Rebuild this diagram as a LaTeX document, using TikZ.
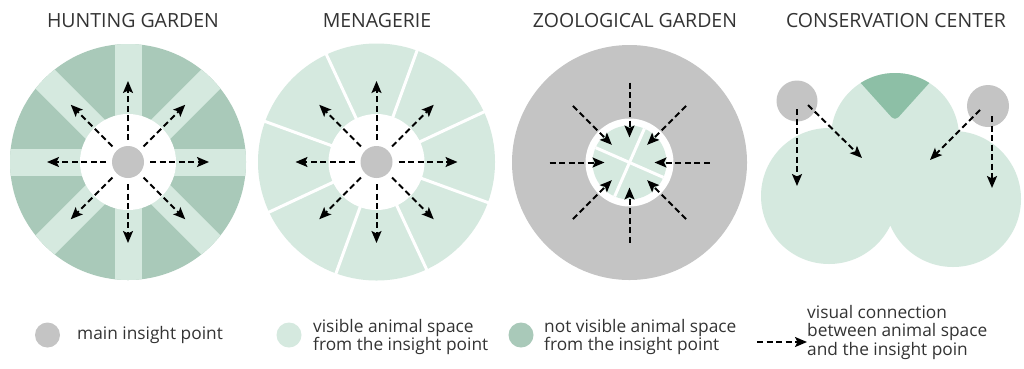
\documentclass[tikz,border=0pt]{standalone}
\usepackage{fontspec}
\setmainfont{Open Sans}
\usetikzlibrary{arrows.meta,calc}
\definecolor{lightc}{HTML}{D5E9DF}
\definecolor{darkc}{HTML}{A9C9B9}
\definecolor{deepc}{HTML}{8DBFA6}
\definecolor{greyc}{HTML}{C4C4C4}
\definecolor{textc}{HTML}{333333}
\begin{document}
\begin{tikzpicture}[x=1pt,y=-1pt,
  pt/.style={circle,fill=greyc,inner sep=0pt},
  ttl/.style={font=\fontsize{19.5}{22}\selectfont,text=textc},
  lgd/.style={font=\fontsize{17.3}{18.5}\selectfont,text=textc,align=left,anchor=west,inner sep=0pt},
  sep/.style={white,line width=3pt},
  ar/.style={-{Stealth[length=12pt,width=10pt,inset=2.5pt]},line width=2pt,dash pattern=on 6pt off 3.5pt}]
\useasboundingbox[fill=white] (0,0) rectangle (1024,368);
% titles
\node[ttl] (t1) at (133,21) {HUNTING GARDEN};
\node[ttl] (t2) at (377,21) {MENAGERIE};
\node[ttl] (t3) at (635,21) {ZOOLOGICAL GARDEN};
\node[ttl] (t4) at (896,21) {CONSERVATION CENTER};
% hunting garden
\fill[darkc] (128,162) circle (118pt);
\begin{scope}
  \clip (128,162) circle (118pt);
  \foreach \a in {0,45,90,135}
    \draw[lightc,line width=27pt] ($(128,162)+(\a:120)$) -- ($(128,162)+(\a+180:120)$);
\end{scope}
\fill[white] (128,162) circle (48pt);
\node[pt,minimum size=32pt] (hg) at (128,162) {};
\foreach \a in {0,45,...,315}
  \draw[ar] ($(hg)+(\a:22)$) -- ($(hg)+(\a:81)$);
% menagerie
\fill[lightc] (376.5,162) circle (118.5pt);
\foreach \a in {20,65,...,335}
  \draw[sep] ($(376.5,162)+(\a:46)$) -- ($(376.5,162)+(\a:120)$);
\fill[white] (376.5,162) circle (48pt);
\node[pt,minimum size=32pt] (mg) at (376.5,162) {};
\foreach \a in {0,45,...,315}
  \draw[ar] ($(mg)+(\a:22)$) -- ($(mg)+(\a:81)$);
% zoological garden
\fill[greyc] (629.5,162.5) circle (117.5pt);
\fill[white] (629.5,162.5) circle (44pt);
\node[pt,fill=lightc,minimum size=74pt] (zg) at (629.5,162.5) {};
\draw[sep] ($(zg)+(23.7:37)$) -- ($(zg)+(203.7:37)$);
\draw[sep] ($(zg)+(113.7:37)$) -- ($(zg)+(293.7:37)$);
\foreach \a in {0,45,...,315}
  \draw[ar] ($(zg)+(\a:80)$) -- ($(zg)+(\a:25)$);
% conservation center
\fill[lightc] (829,196) circle (68pt) (953,199) circle (68pt) (895,137) circle (64pt);
\begin{scope}
  \clip (895,137) circle (64pt);
  \fill[deepc,rounded corners=5pt] (895,121) -- (840,60) -- (950,60) -- cycle;
\end{scope}
\node[pt,minimum size=41pt] (cl) at (797,101) {};
\node[pt,minimum size=42pt] (cr) at (988,106) {};
\coordinate (cla) at (797,186);
\coordinate (clb) at (862,158);
\coordinate (cra) at (992,188);
\coordinate (crb) at (930,160);
\draw[ar] ($(cl)+(0,8)$) -- (cla);
\draw[ar] ($(cl)+(11,4)$) -- (clb);
\draw[ar] ($(cr)+(4,10)$) -- (cra);
\draw[ar] ($(cr)+(-8,4)$) -- (crb);
% legend
\node[pt,minimum size=25pt] (k1) at (47.5,335) {};
\node[lgd] (k1t) at (77,335) {main insight point};
\node[pt,fill=lightc,minimum size=25pt] (k2) at (289,335) {};
\node[lgd] (k2t) at (313,337) {visible animal space\\from the insight point};
\node[pt,fill=darkc,minimum size=25pt] (k3) at (521,335) {};
\node[lgd] (k3t) at (544,337) {not visible animal space\\from the insight point};
\node[lgd] (k4t) at (807,332) {visual connection\\between animal space\\and the insight poin};
\coordinate (k4) at (757,342);
\draw[ar] (k4) -- (k4 -| k4t.west);
\end{tikzpicture}
\end{document}
